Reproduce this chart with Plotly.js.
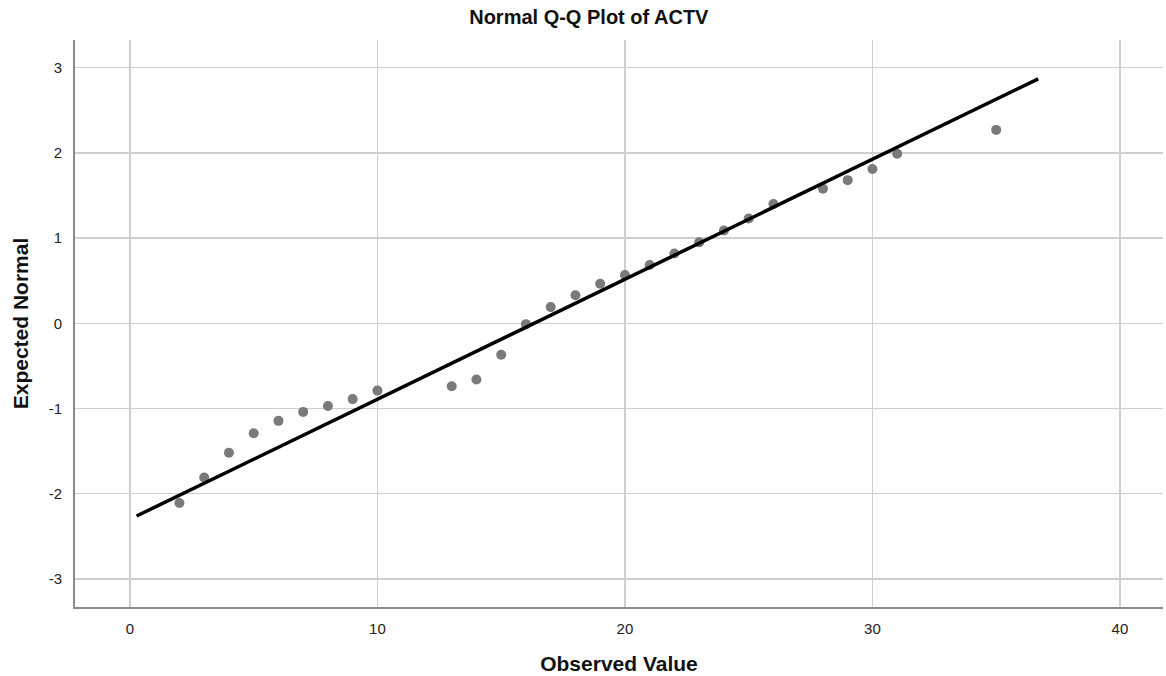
<!DOCTYPE html>
<html>
<head>
<meta charset="utf-8">
<script src="https://cdn.plot.ly/plotly-3.0.1.min.js"></script>
<style>html,body{margin:0;padding:0;background:#fff;}#chart{width:1166px;height:676px;}</style>
</head>
<body>
<div id="chart"></div>
<script>
const observed = [2, 3, 4, 5, 6, 7, 8, 9, 10, 13, 14, 15, 16, 17, 18, 19, 20, 21, 22, 23, 24, 25, 26, 28, 29, 30, 31, 35];
const expected = [-2.11, -1.81, -1.52, -1.29, -1.145, -1.04, -0.97, -0.89, -0.79, -0.74, -0.66, -0.37, -0.01, 0.19, 0.33, 0.465, 0.566, 0.685, 0.82, 0.95, 1.09, 1.23, 1.40, 1.58, 1.68, 1.81, 1.99, 2.27];
const fitMean = 16.33;
const fitSd = 7.10;
const lineX = [0.27, 36.7];
const lineY = lineX.map(x => (x - fitMean) / fitSd);
const xTicks = [0, 10, 20, 30, 40];
const yTicks = [-3, -2, -1, 0, 1, 2, 3];

const font = 'Liberation Sans, Arial, sans-serif';
const data = [
  {x: observed, y: expected, mode: 'markers', type: 'scatter',
   marker: {color: '#7a7a7a', size: 10}, hoverinfo: 'x+y'},
  {x: lineX, y: lineY, mode: 'lines', type: 'scatter',
   line: {color: '#000000', width: 3.5}}
];
const layout = {
  width: 1166, height: 676,
  margin: {l: 75, r: 3, t: 40, b: 69},
  paper_bgcolor: '#ffffff', plot_bgcolor: '#ffffff',
  showlegend: false,
  font: {family: font, color: '#222', size: 15},
  title: {text: 'Normal Q-Q Plot of ACTV', x: 0.505, xanchor: 'center', y: 0.975, yanchor: 'middle',
          font: {family: font, size: 20, color: '#111', weight: 'bold'}},
  xaxis: {range: [-2.22, 41.74], tickvals: xTicks, ticktext: xTicks.map(String),
          showgrid: true, gridcolor: '#cfcfcf', gridwidth: 1.5, zeroline: false,
          showline: true, linecolor: '#8a8a8a', linewidth: 2,
          ticks: 'outside', ticklen: 7, tickcolor: 'rgba(0,0,0,0)',
          tickfont: {family: font, size: 15, color: '#222'},
          title: {text: 'Observed Value', standoff: 20, font: {family: font, size: 21, color: '#111', weight: 'bold'}}},
  yaxis: {range: [-3.33, 3.325], tickvals: yTicks, ticktext: yTicks.map(String),
          showgrid: true, gridcolor: '#cfcfcf', gridwidth: 1.5, zeroline: false,
          showline: true, linecolor: '#8a8a8a', linewidth: 2,
          ticks: 'outside', ticklen: 8, tickcolor: 'rgba(0,0,0,0)',
          tickfont: {family: font, size: 15, color: '#222'},
          title: {text: 'Expected Normal', standoff: 14, font: {family: font, size: 21, color: '#111', weight: 'bold'}}}
};
Plotly.newPlot('chart', data, layout, {displayModeBar: false, staticPlot: true});
</script>
</body>
</html>
